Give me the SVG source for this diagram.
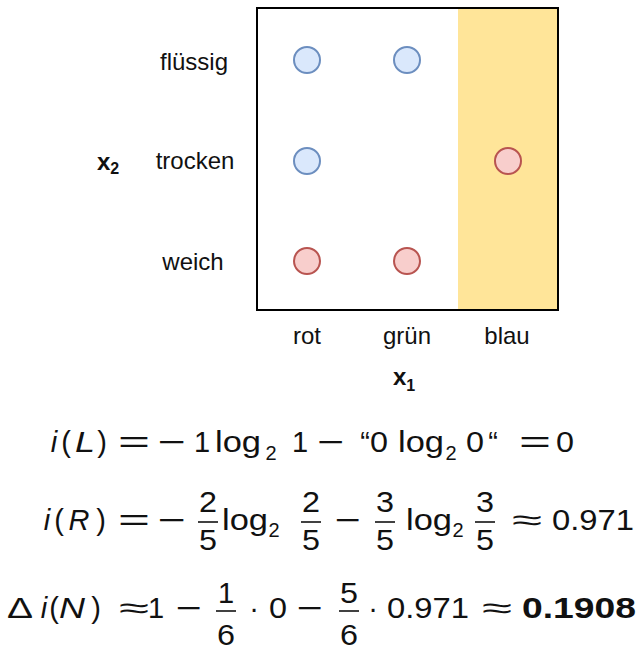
<svg xmlns="http://www.w3.org/2000/svg" width="642" height="655" viewBox="0 0 642 655">
<style>
.lbl{font-family:"Liberation Sans",Arial,sans-serif;font-size:24px;fill:#111;text-anchor:middle}
.ax{font-family:"Liberation Sans",Arial,sans-serif;font-size:24px;font-weight:bold;fill:#111}
.axs{font-size:16px}
.blue{fill:#dae8fc;stroke:#6c8ebf;stroke-width:2}
.red{fill:#f8cecc;stroke:#b85450;stroke-width:2}
.m{font-family:"Liberation Sans",Arial,sans-serif;font-size:29px;fill:#111;text-anchor:middle}
.s{font-family:"Liberation Sans",Arial,sans-serif;font-size:20px;fill:#111;text-anchor:middle}
.it{font-style:italic}
.bar{stroke:#111;stroke-width:1.6}
</style>
<rect width="642" height="655" fill="#fff"/>
<g id="plot">
  <rect x="458" y="8" width="100" height="302" fill="#ffe599"/>
  <rect x="257" y="8" width="301" height="302" fill="none" stroke="#000" stroke-width="2"/>
</g>
<g id="points">
  <g id="p1"><circle class="blue" cx="307" cy="60" r="13"/></g>
  <g id="p2"><circle class="blue" cx="407" cy="60" r="13"/></g>
  <g id="p3"><circle class="blue" cx="307" cy="161" r="13"/></g>
  <g id="p4"><circle class="red" cx="508" cy="161" r="13"/></g>
  <g id="p5"><circle class="red" cx="307" cy="261" r="13"/></g>
  <g id="p6"><circle class="red" cx="407" cy="261" r="13"/></g>
</g>
<g id="labels">
  <text class="lbl" x="194" y="70">flüssig</text>
  <text class="lbl" x="195" y="169">trocken</text>
  <text class="lbl" x="193" y="270">weich</text>
  <text class="lbl" x="307" y="344">rot</text>
  <text class="lbl" x="407" y="344">grün</text>
  <text class="lbl" x="507" y="344">blau</text>
  <text class="ax" x="97" y="170">x<tspan class="axs" dy="4">2</tspan></text>
  <text class="ax" x="393" y="385">x<tspan class="axs" dy="6">1</tspan></text>
</g>
<g id="formula1">
  <text class="m it" x="54" y="452">i</text>
  <text class="m" x="66" y="452">(</text>
  <text class="m it" x="85" y="452" textLength="20" lengthAdjust="spacingAndGlyphs">L</text>
  <text class="m" x="102" y="452">)</text>
  <text class="m" x="134" y="452" textLength="32" lengthAdjust="spacingAndGlyphs">=</text>
  <text class="m" x="172" y="452" textLength="28" lengthAdjust="spacingAndGlyphs">−</text>
  <text class="m" x="202" y="452">1</text>
  <text class="m" x="238" y="452" textLength="46" lengthAdjust="spacingAndGlyphs">log</text>
  <text class="s" x="271" y="460">2</text>
  <text class="m" x="300" y="452">1</text>
  <text class="m" x="331" y="452" textLength="27" lengthAdjust="spacingAndGlyphs">−</text>
  <text class="m" x="365" y="452">“</text>
  <text class="m" x="379" y="452" textLength="18" lengthAdjust="spacingAndGlyphs">0</text>
  <text class="m" x="421" y="452" textLength="46" lengthAdjust="spacingAndGlyphs">log</text>
  <text class="s" x="451" y="460">2</text>
  <text class="m" x="475" y="452" textLength="18" lengthAdjust="spacingAndGlyphs">0</text>
  <text class="m" x="493" y="452">“</text>
  <text class="m" x="535" y="452" textLength="32" lengthAdjust="spacingAndGlyphs">=</text>
  <text class="m" x="565" y="452" textLength="18" lengthAdjust="spacingAndGlyphs">0</text>
</g>
<g id="formula2">
  <text class="m it" x="47" y="530">i</text>
  <text class="m" x="59" y="530">(</text>
  <text class="m it" x="79" y="530">R</text>
  <text class="m" x="101" y="530">)</text>
  <text class="m" x="134" y="530" textLength="32" lengthAdjust="spacingAndGlyphs">=</text>
  <text class="m" x="172" y="530" textLength="28" lengthAdjust="spacingAndGlyphs">−</text>
  <text class="m" x="208" y="512" textLength="18" lengthAdjust="spacingAndGlyphs">2</text>
  <line class="bar" x1="198" y1="522" x2="218" y2="522"/>
  <text class="m" x="208" y="550" textLength="18" lengthAdjust="spacingAndGlyphs">5</text>
  <text class="m" x="245" y="530" textLength="46" lengthAdjust="spacingAndGlyphs">log</text>
  <text class="s" x="274" y="537">2</text>
  <text class="m" x="311" y="512" textLength="18" lengthAdjust="spacingAndGlyphs">2</text>
  <line class="bar" x1="301" y1="522" x2="321" y2="522"/>
  <text class="m" x="311" y="550" textLength="18" lengthAdjust="spacingAndGlyphs">5</text>
  <text class="m" x="348" y="530" textLength="26" lengthAdjust="spacingAndGlyphs">−</text>
  <text class="m" x="385" y="512" textLength="18" lengthAdjust="spacingAndGlyphs">3</text>
  <line class="bar" x1="375" y1="522" x2="395" y2="522"/>
  <text class="m" x="385" y="550" textLength="18" lengthAdjust="spacingAndGlyphs">5</text>
  <text class="m" x="429" y="530" textLength="46" lengthAdjust="spacingAndGlyphs">log</text>
  <text class="s" x="458" y="537">2</text>
  <text class="m" x="485" y="512" textLength="18" lengthAdjust="spacingAndGlyphs">3</text>
  <line class="bar" x1="475" y1="522" x2="495" y2="522"/>
  <text class="m" x="485" y="550" textLength="18" lengthAdjust="spacingAndGlyphs">5</text>
  <text class="m" x="527" y="530" textLength="30" lengthAdjust="spacingAndGlyphs">≈</text>
  <text class="m" x="593" y="530" textLength="82" lengthAdjust="spacingAndGlyphs">0.971</text>
</g>
<g id="formula3">
  <text class="m" x="20" y="618" textLength="26" lengthAdjust="spacingAndGlyphs">Δ</text>
  <text class="m it" x="44" y="618">i</text>
  <text class="m" x="54" y="618">(</text>
  <text class="m it" x="72" y="618" textLength="26" lengthAdjust="spacingAndGlyphs">N</text>
  <text class="m" x="96" y="618">)</text>
  <text class="m" x="134" y="618" textLength="30" lengthAdjust="spacingAndGlyphs">≈</text>
  <text class="m" x="156" y="618">1</text>
  <text class="m" x="189" y="618" textLength="26" lengthAdjust="spacingAndGlyphs">−</text>
  <text class="m" x="226" y="603">1</text>
  <line class="bar" x1="216" y1="611" x2="236" y2="611"/>
  <text class="m" x="226" y="645" textLength="18" lengthAdjust="spacingAndGlyphs">6</text>
  <text class="m" x="254" y="618">·</text>
  <text class="m" x="278" y="618" textLength="18" lengthAdjust="spacingAndGlyphs">0</text>
  <text class="m" x="310" y="618" textLength="26" lengthAdjust="spacingAndGlyphs">−</text>
  <text class="m" x="349" y="603" textLength="18" lengthAdjust="spacingAndGlyphs">5</text>
  <line class="bar" x1="339" y1="611" x2="359" y2="611"/>
  <text class="m" x="349" y="645" textLength="18" lengthAdjust="spacingAndGlyphs">6</text>
  <text class="m" x="373" y="618">·</text>
  <text class="m" x="428" y="618" textLength="82" lengthAdjust="spacingAndGlyphs">0.971</text>
  <text class="m" x="497" y="618" textLength="30" lengthAdjust="spacingAndGlyphs">≈</text>
  <text class="m" x="579" y="618" font-weight="bold" textLength="114" lengthAdjust="spacingAndGlyphs">0.1908</text>
</g>
</svg>
